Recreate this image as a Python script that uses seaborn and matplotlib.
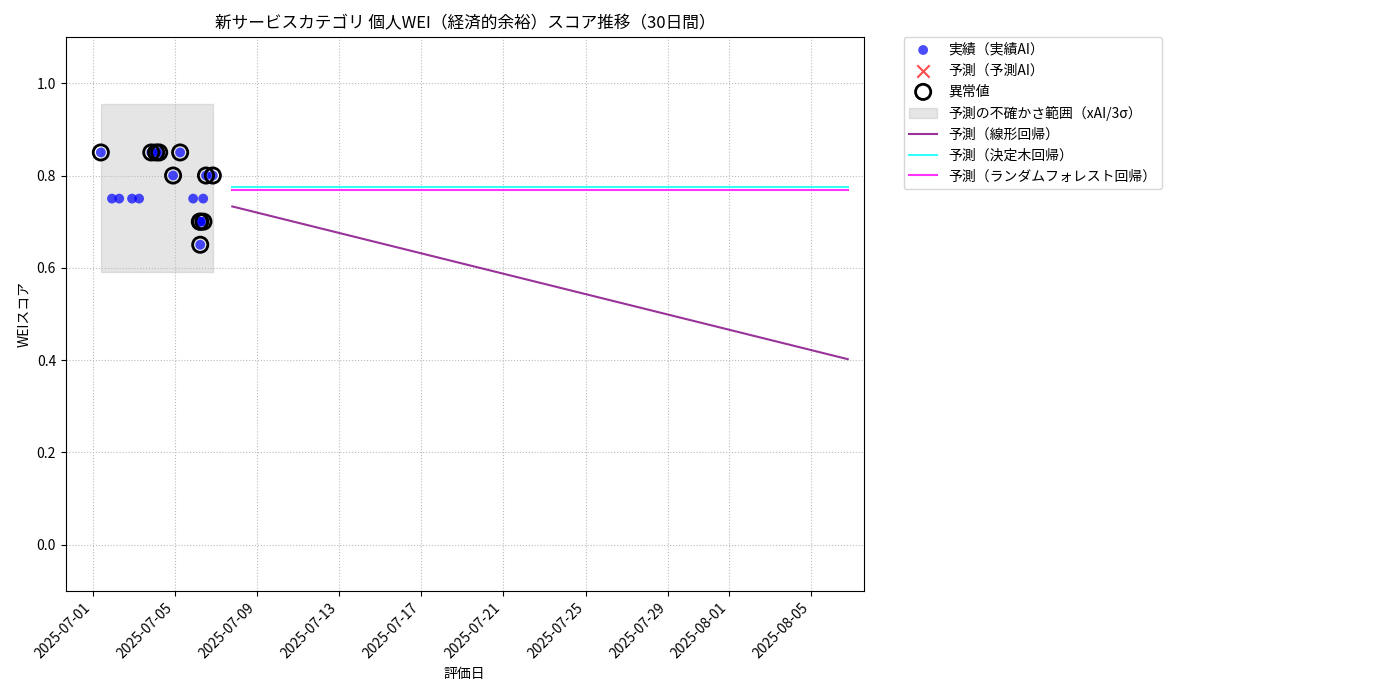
import matplotlib
matplotlib.use("Agg")
import matplotlib.pyplot as plt
import matplotlib.dates as mdates
import seaborn as sns
import pandas as pd
import numpy as np

plt.rcParams["font.family"] = "Noto Sans CJK JP"

actual_times = ["2025-07-01 09:00", "2025-07-01 22:00", "2025-07-02 06:30", "2025-07-02 21:30",
                "2025-07-03 05:45", "2025-07-03 20:00", "2025-07-04 01:40", "2025-07-04 05:15",
                "2025-07-04 21:30", "2025-07-05 05:45", "2025-07-05 21:00", "2025-07-06 04:45",
                "2025-07-06 09:00", "2025-07-06 12:00", "2025-07-06 20:00", "2025-07-06 05:15",
                "2025-07-06 08:45", "2025-07-06 05:20"]
actual_vals = [0.85, 0.75, 0.75, 0.75, 0.75, 0.85, 0.85, 0.85, 0.80, 0.85, 0.75, 0.70,
               0.70, 0.80, 0.80, 0.65, 0.75, 0.70]
outlier_flag = [1, 0, 0, 0, 0, 1, 1, 1, 1, 1, 0, 1, 1, 1, 1, 1, 0, 1]

fc_start = "2025-07-07 18:45"
fc_end = "2025-08-06 18:45"
linear_vals = [0.733, 0.402]
tree_vals = [0.775, 0.775]
rf_vals = [0.768, 0.768]
band_times = ["2025-07-01 09:00", "2025-07-06 20:00"]
band_vals = [0.59, 0.955]

df = pd.DataFrame({"t": pd.to_datetime(actual_times), "v": actual_vals, "o": outlier_flag})
fc = pd.DataFrame({"t": pd.to_datetime([fc_start, fc_end]), "lin": linear_vals,
                   "tree": tree_vals, "rf": rf_vals})

fig, ax = plt.subplots(figsize=(14, 7), dpi=100)
fig.subplots_adjust(left=0.047, right=0.617, top=0.947, bottom=0.156)

bt = pd.to_datetime(band_times)
ax.fill_between(bt, band_vals[0], band_vals[1], color="gray", alpha=0.2,
                label="予測の不確かさ範囲（xAI/3σ）", zorder=1)
sns.scatterplot(data=df, x="t", y="v", color="blue", alpha=0.7, s=50, edgecolor="none",
                ax=ax, label="実績（実績AI）", zorder=3)
ax.scatter([], [], marker="x", color="red", alpha=0.7, s=80, label="予測（予測AI）")
od = df[df.o == 1]
ax.scatter(od.t, od.v, s=120, facecolors="none", edgecolors="black", linewidths=2,
           label="異常値", zorder=4)
sns.lineplot(data=fc, x="t", y="lin", color="purple", alpha=0.8, ax=ax, label="予測（線形回帰）")
sns.lineplot(data=fc, x="t", y="tree", color="cyan", alpha=0.8, ax=ax, label="予測（決定木回帰）")
sns.lineplot(data=fc, x="t", y="rf", color="magenta", alpha=0.8, ax=ax, label="予測（ランダムフォレスト回帰）")

h, l = ax.get_legend_handles_labels()
order = ["実績（実績AI）", "予測（予測AI）", "異常値", "予測の不確かさ範囲（xAI/3σ）",
         "予測（線形回帰）", "予測（決定木回帰）", "予測（ランダムフォレスト回帰）"]
hm = dict(zip(l, h))
ax.legend([hm[k] for k in order], order, loc="upper left", bbox_to_anchor=(1.05, 1.0),
          borderaxespad=0, fontsize=10)

ax.set_xlim(pd.Timestamp("2025-06-29 16:00"), pd.Timestamp("2025-08-07 13:30"))
ax.set_ylim(-0.1, 1.1)
ax.set_yticks([0.0, 0.2, 0.4, 0.6, 0.8, 1.0])
ax.xaxis.set_major_locator(mdates.DayLocator(bymonthday=[1, 5, 9, 13, 17, 21, 25, 29]))
ax.xaxis.set_major_formatter(mdates.DateFormatter("%Y-%m-%d"))
plt.setp(ax.get_xticklabels(), rotation=45, ha="right")
ax.grid(True, linestyle=":", color="#bbbbbb")
ax.set_xlabel("評価日")
ax.set_ylabel("WEIスコア")
ax.set_title("新サービスカテゴリ 個人WEI（経済的余裕）スコア推移（30日間）", fontsize=12)
fig.savefig("out.png")
